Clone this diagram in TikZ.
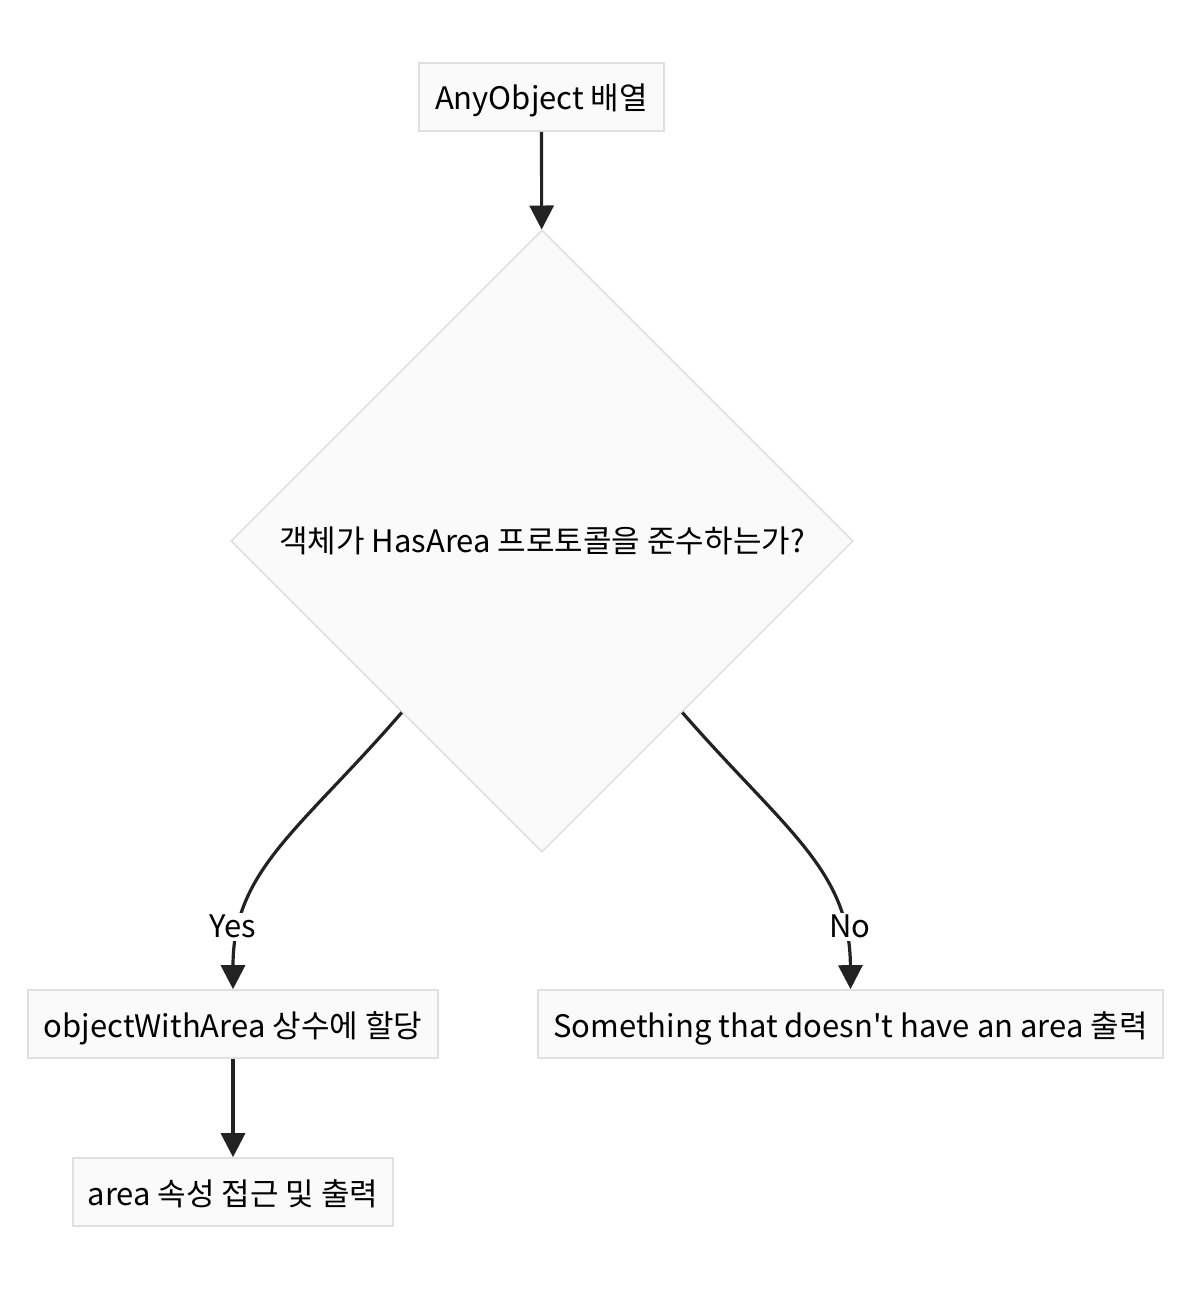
\documentclass[tikz,border=0pt]{standalone}
\usepackage{fontspec}
\setmainfont{Noto Sans CJK KR}
\usepackage{tikz}
\usetikzlibrary{shapes.geometric,arrows.meta,calc}

\definecolor{boxfill}{HTML}{FAFAFA}
\definecolor{boxline}{HTML}{E0E0E0}
\definecolor{edgeline}{HTML}{222222}

\begin{document}
\begin{tikzpicture}[x=0.5pt, y=-0.5pt, font=\fontsize{15.5}{18}\selectfont,
		box_style/.style={rectangle,draw=boxline,line width=0.8pt,fill=boxfill,minimum height=34pt,inner sep=0pt,text height=13pt,text depth=0pt},
		cond_style/.style={diamond,draw=boxline,line width=0.8pt,fill=boxfill,minimum width=311pt,minimum height=311pt,inner sep=0pt,text height=11pt,text depth=0pt},
		edge_style/.style={draw=edgeline,line width=1.6pt,-{Triangle[width=12pt,length=12pt]}},
		label_style/.style={fill=white,inner sep=1pt,text height=11pt,text depth=1pt}]

		\useasboundingbox (0,0) rectangle (1194,1300);

		\node[box_style,minimum width=122.5pt] (start) at (541.5,97)  {AnyObject 배열};
		\node[cond_style] (check) at (542,541)  {객체가 HasArea 프로토콜을 준수하는가?};
		\node[box_style,minimum width=205pt] (assign) at (233,1024)  {objectWithArea 상수에 할당};
		\node[box_style,minimum width=312.5pt] (noarea) at (850.5,1024)  {Something that doesn\textquotesingle t have an area 출력};
		\node[box_style,minimum width=160pt] (access) at (233,1192)  {area 속성 접근 및 출력};

		\draw[edge_style]  (start) -- (check);
		\draw[edge_style]  ($(check.west)!0.55!(check.south)$) .. controls (300,830) and (233,870) .. (assign.north);
		\draw[edge_style]  ($(check.east)!0.55!(check.south)$) .. controls (785,830) and (850,870) .. (noarea.north);
		\draw[edge_style]  (assign) -- (access);

		\node[label_style] (yes) at (233,927) {Yes};
		\node[label_style] (no) at (850,927) {No};

\end{tikzpicture}
\end{document}
